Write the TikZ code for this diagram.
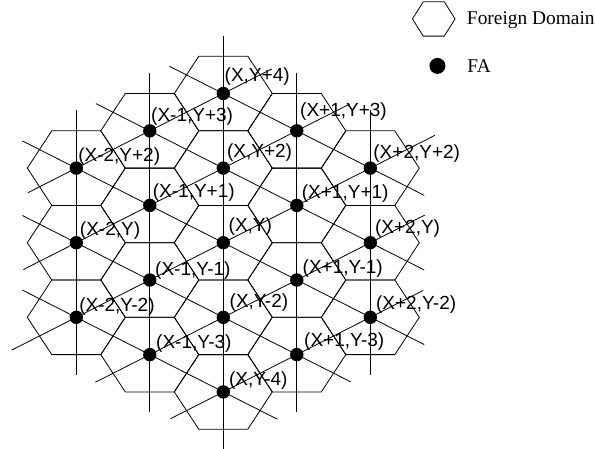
\documentclass[tikz,border=0pt]{standalone}
\usepackage{fontspec}
\setmainfont{Liberation Serif}
\newfontfamily\lblfont{Liberation Sans}
\usetikzlibrary{calc}

\begin{document}
\begin{tikzpicture}[x=24.5pt, y=37.3pt, line width=0.8pt,
  fa/.style={circle, fill=black, inner sep=0pt, minimum size=13.4pt},
  lbl/.style={anchor=base west, inner sep=0pt, font=\lblfont\fontsize{19}{22}\selectfont},
  keytxt/.style={anchor=base west, inner sep=0pt, font=\fontsize{19.4}{22}\selectfont}]
  \useasboundingbox (-9.114,-5.504) rectangle (15.171,6.507);

  % domains
  \foreach \i/\j in {0/4, -1/3, 1/3, -2/2, 0/2, 2/2, -1/1, 1/1, -2/0, 0/0, 2/0,
                     -1/-1, 1/-1, -2/-2, 0/-2, 2/-2, -1/-3, 1/-3, 0/-4}
    \draw[shift={(3*\i,\j)}] (-2,0) -- (-1,1) -- (1,1) -- (2,0) -- (1,-1) -- (-1,-1) -- cycle;

  % vertical lines
  \foreach \i/\n in {-2/2, -1/3, 0/4, 1/3, 2/2}
    \draw (3*\i,\n+1.55) -- (3*\i,-\n-1.55);
  % rising lines
  \foreach \a/\b/\c/\d/\e in {-2/2/0/4/0.66, -2/0/1/3/0.72, -2/-2/2/2/0.88,
                              -1/-3/2/0/0.74, 0/-4/2/-2/0.72}
    \draw (3*\a-3*\e,\b-\e) -- (3*\c+3*\e,\d+\e);
  % falling lines
  \foreach \a/\b/\c/\d in {-2/2/2/-2, 0/4/2/2, -1/3/2/0, -2/0/1/-3, -2/-2/0/-4}
    \draw (3*\a-2.2,\b+0.73) -- (3*\c+2.2,\d-0.73);

  % FA
  \foreach \i/\j in {0/4, -1/3, 1/3, -2/2, 0/2, 2/2, -1/1, 1/1, -2/0, 0/0, 2/0,
                     -1/-1, 1/-1, -2/-2, 0/-2, 2/-2, -1/-3, 1/-3, 0/-4}
    \node[fa] (d\i\j) at (3*\i,\j) {};

  \node[lbl] at ([xshift=1pt,yshift=11.6pt]d04) {(X,Y+4)};
  \node[lbl] at ([xshift=1pt,yshift=9.3pt]d-13) {(X-1,Y+3)};
  \node[lbl] at ([xshift=3pt,yshift=14pt]d13) {(X+1,Y+3)};
  \node[lbl] at ([xshift=1.6pt,yshift=6.6pt]d-22) {(X-2,Y+2)};
  \node[lbl] at ([xshift=3.4pt,yshift=10.4pt]d02) {(X,Y+2)};
  \node[lbl] at ([xshift=2.7pt,yshift=10pt]d22) {(X+2,Y+2)};
  \node[lbl] at ([xshift=2.7pt,yshift=8.3pt]d-11) {(X-1,Y+1)};
  \node[lbl] at ([xshift=4.7pt,yshift=6.7pt]d11) {(X+1,Y+1)};
  \node[lbl] at ([xshift=3.3pt,yshift=7.7pt]d-20) {(X-2,Y)};
  \node[lbl] at ([xshift=5pt,yshift=11pt]d00) {(X,Y)};
  \node[lbl] at ([xshift=4.4pt,yshift=9.4pt]d20) {(X+2,Y)};
  \node[lbl] at ([xshift=5pt,yshift=5pt]d-1-1) {(X-1,Y-1)};
  \node[lbl] at ([xshift=5.5pt,yshift=6.7pt]d1-1) {(X+1,Y-1)};
  \node[lbl] at ([xshift=2.6pt,yshift=5.6pt]d-2-2) {(X-2,Y-2)};
  \node[lbl] at ([xshift=6pt,yshift=10pt]d0-2) {(X,Y-2)};
  \node[lbl] at ([xshift=5.4pt,yshift=7.7pt]d2-2) {(X+2,Y-2)};
  \node[lbl] at ([xshift=6pt,yshift=6pt]d-1-3) {(X-1,Y-3)};
  \node[lbl] at ([xshift=7pt,yshift=7.7pt]d1-3) {(X+1,Y-3)};
  \node[lbl] at ([xshift=5.4pt,yshift=6.7pt]d0-4) {(X,Y-4)};

  % legend
  \coordinate (keyhex) at (8.59,6.0);
  \draw[shift={(keyhex)}] (-21.3pt,0pt) -- (-10.5pt,17.2pt) -- (10.5pt,17.2pt)
    -- (21.3pt,0pt) -- (10.5pt,-17.2pt) -- (-10.5pt,-17.2pt) -- cycle;
  \node[keytxt] (fd) at (9.93,5.84) {Foreign Domain};
  \node[fa, minimum size=16pt] (keydot) at (8.74,4.74) {};
  \node[keytxt] (fatxt) at (9.95,4.55) {FA};
\end{tikzpicture}
\end{document}
